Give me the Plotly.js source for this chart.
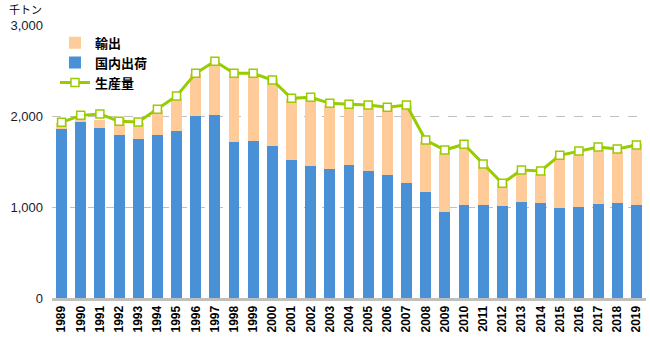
<!DOCTYPE html>
<html><head><meta charset="utf-8">
<script src="https://cdn.plot.ly/plotly-3.0.1.min.js"></script>
<style>body{margin:0;padding:0;background:#fff}#c{width:650px;height:350px}</style>
</head><body><div id="c"></div>
<script>
const years = ['1989','1990','1991','1992','1993','1994','1995','1996','1997','1998','1999','2000','2001','2002','2003','2004','2005','2006','2007','2008','2009','2010','2011','2012','2013','2014','2015','2016','2017','2018','2019'];
const domestic = [1857,1934,1868,1791,1747,1791,1835,2000,2011,1714,1725,1670,1516,1450,1418,1462,1396,1352,1264,1165,945,1022,1022,1011,1055,1044,989,1000,1033,1044,1022];
const exports_ = [66,59,88,183,172,275,359,462,568,737,726,744,667,733,703,648,707,732,846,546,670,652,428,256,352,319,571,582,601,571,670];
const production = [1930,2007,2022,1941,1934,2073,2220,2469,2601,2469,2469,2396,2194,2205,2139,2128,2121,2095,2121,1736,1626,1689,1472,1260,1407,1396,1568,1615,1659,1637,1681];
const yTicks = [0,1000,2000,3000];
const yTickText = ['0','1,000','2,000','3,000'];

const font = 'Arial, "Liberation Sans", "Noto Sans CJK JP", sans-serif';
const data = [
  {type:'bar', name:'国内出荷', x:years, y:domestic, marker:{color:'#4A90D6'}, legendrank:2},
  {type:'bar', name:'輸出', x:years, y:exports_, marker:{color:'#FFCC99'}, legendrank:1},
  {type:'scatter', mode:'lines+markers', name:'生産量', x:years, y:production,
   line:{color:'#99CC00', width:3},
   marker:{symbol:'square', size:8, color:'#ffffff', line:{color:'#99CC00', width:1.5}}, legendrank:3}
];
const layout = {
  width:650, height:350,
  margin:{l:52, r:4, t:25, b:52},
  barmode:'stack', bargap:0.43,
  paper_bgcolor:'#fff', plot_bgcolor:'#fff',
  font:{family:font, size:11, color:'#000'},
  showlegend:true,
  legend:{x:0.005, y:0.99, xanchor:'left', yanchor:'top', traceorder:'normal',
          bgcolor:'rgba(0,0,0,0)', font:{size:13, family:'"Noto Sans CJK JP", sans-serif', weight:'bold', color:'#000'},
          itemwidth:30, tracegroupgap:0},
  xaxis:{type:'category', range:[-0.5, 30.5], autorange:false, tickangle:-90, showgrid:false, zeroline:false,
         showline:true, linecolor:'#bfbfbf', linewidth:3, ticks:'',
         tickfont:{size:12, family:font, weight:'bold', color:'#000'}},
  yaxis:{range:[0,3000], autorange:false, tickvals:yTicks, ticktext:yTickText, showgrid:true,
         gridcolor:'#c0c0c0', griddash:'dash', gridwidth:1, zeroline:false, showline:false,
         ticks:'', tickfont:{size:13, family:font, color:'#1a1a2e'}, ticklabelstandoff:8},
  annotations:[{text:'千トン', xref:'paper', yref:'paper', x:-0.075, y:1.0, xanchor:'left', yanchor:'bottom',
                yshift:6, showarrow:false, font:{size:11, family:'"Noto Sans CJK JP", sans-serif', color:'#000'}}]
};
Plotly.newPlot('c', data, layout, {displayModeBar:false, staticPlot:true});
</script></body></html>
